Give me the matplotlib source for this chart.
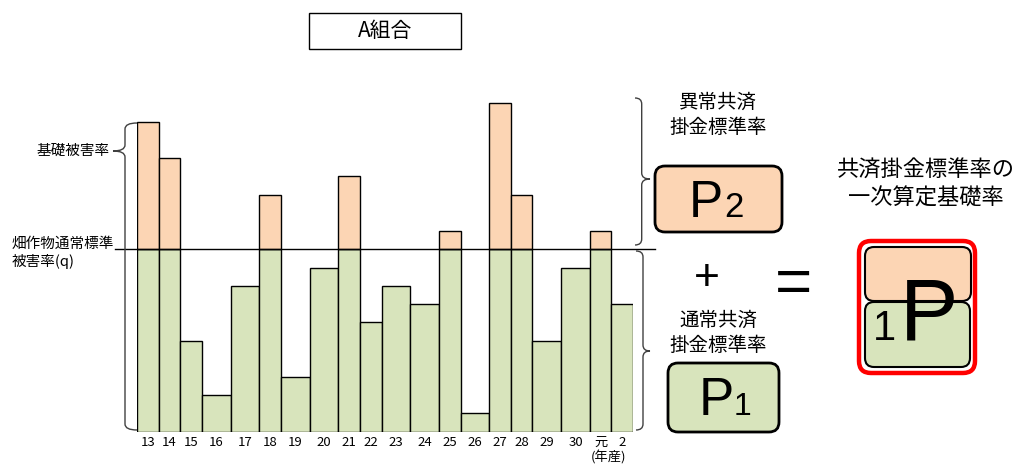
import numpy as np
import matplotlib
matplotlib.use("Agg")
import matplotlib.pyplot as plt
from matplotlib.patches import FancyBboxPatch, PathPatch
from matplotlib.path import Path

plt.rcParams['font.family'] = ['Noto Sans CJK JP', 'DejaVu Sans']

# data
years = ['13', '14', '15', '16', '17', '18', '19', '20', '21', '22',
         '23', '24', '25', '26', '27', '28', '29', '30', '元', '2']
damage = [17, 15, 5, 2, 8, 13, 3, 9, 14, 6, 8, 7, 11, 1, 18, 13, 5, 9, 11, 7]
widths = [3, 3, 3, 4, 4, 3, 4, 4, 3, 3, 4, 4, 3, 4, 3, 3, 4, 4, 3, 3]
q = 10

peach = '#FCD5B4'
green = '#D8E4BC'

W, H = 1031, 468
fig = plt.figure(figsize=(W / 100, H / 100), dpi=100)

# bar axes (pixel layout: x 137..633, baseline at y 431.7, 18.24 px per unit)
ax = fig.add_axes([137.3 / W, (H - 431.7) / H, 495.7 / W, 19 * 18.24 / H])
damage = np.array(damage)
widths = np.array(widths)
lefts = np.concatenate([[0], np.cumsum(widths)[:-1]])
normal = np.minimum(damage, q)
extra = np.maximum(damage - q, 0)
ax.bar(lefts, normal, width=widths, align='edge', color=green,
       edgecolor='black', linewidth=1.0)
ax.bar(lefts[extra > 0], extra[extra > 0], width=widths[extra > 0],
       bottom=q, align='edge', color=peach, edgecolor='black', linewidth=1.0)
ax.plot([-3.1, 72.1], [q, q], color='black', lw=1.0, clip_on=False)
ax.set_xlim(0, widths.sum())
ax.set_ylim(0, 19)
ax.set_xticks(lefts + widths / 2)
ax.set_xticklabels(years, fontsize=9.5)
ax.tick_params(axis='x', length=0, pad=3)
ax.set_yticks([])
for s in ax.spines.values():
    s.set_visible(False)
ax.patch.set_alpha(0)

# overlay axes in pixel coordinates for the diagram parts
ov = fig.add_axes([0, 0, 1, 1])
ov.set_xlim(0, W)
ov.set_ylim(H, 0)
ov.axis('off')
ov.patch.set_alpha(0)


def brace(x, y0, y1, yt, tip, hook, color='#404040'):
    r = 6
    verts = [(hook, y0), (x, y0), (x, y0 + r),
             (x, yt - r), (x, yt), (tip, yt),
             (x, yt), (x, yt + r),
             (x, y1 - r), (x, y1), (hook, y1)]
    codes = [Path.MOVETO, Path.CURVE3, Path.CURVE3,
             Path.LINETO, Path.CURVE3, Path.CURVE3,
             Path.CURVE3, Path.CURVE3,
             Path.LINETO, Path.CURVE3, Path.CURVE3]
    ov.add_patch(PathPatch(Path(verts, codes), fill=False, ec=color, lw=1.0))


def rbox(x0, y0, x1, y1, fc, ec='black', lw=2.0, rs=10):
    ov.add_patch(FancyBboxPatch((x0, y0), x1 - x0, y1 - y0,
                                boxstyle=f'round,pad=0,rounding_size={rs}',
                                fc=fc, ec=ec, lw=lw))


brace(125, 123, 430, 151, 113, 137)
brace(641.7, 98, 245, 179, 650, 635)
brace(643, 251, 430, 351, 650, 636)

# title box
ov.add_patch(plt.Rectangle((309, 13), 152, 36, fc='white', ec='black', lw=1.0))
ov.text(385, 31, 'A組合', ha='center', va='center', fontsize=15)

# left labels
ov.text(110, 151, '基礎被害率', ha='right', va='center', fontsize=10.5)
ov.text(12, 253, '畑作物通常標準\n被害率(q)', ha='left', va='center',
        fontsize=10.5, linespacing=1.25)
ov.text(608, 458, '(年産)', ha='center', va='center', fontsize=9.5)

# right side labels
ov.text(718, 115, '異常共済\n掛金標準率', ha='center', va='center',
        fontsize=14, linespacing=1.3)
ov.text(718, 333, '通常共済\n掛金標準率', ha='center', va='center',
        fontsize=14, linespacing=1.3)
ov.text(926, 184, '共済掛金標準率の\n一次算定基礎率', ha='center', va='center',
        fontsize=16, linespacing=1.3)

rbox(655, 166, 782, 232, peach)
ov.text(689, 217, 'P', ha='left', va='baseline', fontsize=37, family='Liberation Sans')
ov.text(724, 217, '2', ha='left', va='baseline', fontsize=25, family='Liberation Sans')

rbox(668, 363, 779, 432, green)
ov.text(699, 415, 'P', ha='left', va='baseline', fontsize=38, family='Liberation Sans')
ov.text(734, 415, '1', ha='left', va='baseline', fontsize=23, family='Liberation Sans')

ov.text(707, 279, '+', ha='center', va='center', fontsize=32, family='Liberation Sans')
ov.text(793, 286, '=', ha='center', va='center', fontsize=46, family='Liberation Sans')

# combined box
rbox(859, 241, 975, 373, 'white', ec='red', lw=3.2, rs=12)
rbox(865, 247, 971, 301, peach, lw=1.5, rs=9)
rbox(865, 302, 970, 367, green, lw=1.5, rs=9)
ov.text(900, 340, 'P', ha='left', va='baseline', fontsize=63, family='Liberation Sans')
ov.text(873, 340, '1', ha='left', va='baseline', fontsize=30, family='Liberation Sans')

fig.savefig('out.png', dpi=100)
